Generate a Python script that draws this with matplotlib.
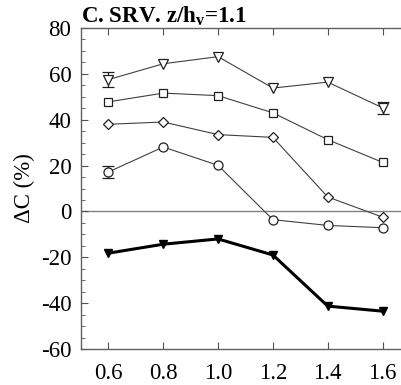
import matplotlib
matplotlib.use("Agg")
import matplotlib.pyplot as plt
from matplotlib.ticker import MultipleLocator

plt.rcParams['font.family'] = ['Liberation Serif', 'DejaVu Serif']
plt.rcParams['axes.unicode_minus'] = False
plt.rcParams['mathtext.fontset'] = 'custom'
plt.rcParams['mathtext.rm'] = 'Liberation Serif'
plt.rcParams['mathtext.bf'] = 'Liberation Serif:bold'

x = [0.6, 0.8, 1.0, 1.2, 1.4, 1.6]
tri_open = [57.5, 64.4, 67.5, 53.8, 56.4, 45.2]
tri_open_err = [3.2, 0, 0, 0, 0, 2.6]
squares = [47.8, 51.6, 50.5, 43.0, 31.3, 21.4]
diamonds = [38.0, 39.0, 33.5, 32.3, 6.3, -2.5]
circles = [17.2, 28.1, 20.1, -3.6, -6.1, -7.1]
circles_err = [2.5, 0, 0, 0, 0, 0]
tri_filled = [-18.2, -14.3, -12.0, -19.0, -41.3, -43.5]
yticks = [-60, -40, -20, 0, 20, 40, 60, 80]
xticks = [0.6, 0.8, 1.0, 1.2, 1.4, 1.6]
xticklabels = ['0.6', '0.8', '1.0', '1.2', '1.4', '1.6']

fig = plt.figure(figsize=(4.01, 3.85), dpi=100)
ax = fig.add_axes([81/401, 1-349/385, (410-81)/401, (349-28)/385])

ax.axhline(0, color='#808080', lw=1.0, zorder=1)

lc = '#404040'
def series(y, marker, ms, err=None):
    ax.plot(x, y, color=lc, lw=0.8, marker=marker, ms=ms, mfc='white', mec='#202020', mew=0.9, zorder=3)
    if err is not None:
        ex = [xi for xi, e in zip(x, err) if e > 0]
        ey = [yi for yi, e in zip(y, err) if e > 0]
        ee = [e for e in err if e > 0]
        ax.errorbar(ex, ey, yerr=ee, fmt='none', ecolor='#202020', elinewidth=0.9, capsize=4, capthick=0.9, zorder=2)

series(tri_open, 'v', 7, tri_open_err)
series(squares, 's', 6)
series(diamonds, 'D', 5.5)
series(circles, 'o', 6.5, circles_err)
ax.plot(x, tri_filled, color='black', lw=2.2, marker='v', ms=6, mfc='black', mec='black', zorder=3)

ax.set_xlim(0.5, 1.7)
ax.set_ylim(-60, 80)
ax.set_yticks(yticks)
ax.yaxis.set_minor_locator(MultipleLocator(5))
ax.set_xticks(xticks)
ax.set_xticklabels(xticklabels)
ax.tick_params(direction='in', which='both', top=True, right=True, labelsize=16.5, colors='#505050', labelcolor='black')
ax.tick_params(which='major', length=5)
ax.tick_params(which='minor', length=3)
ax.tick_params(axis='x', pad=10)
ax.tick_params(axis='y', pad=7)
for s in ax.spines.values():
    s.set_color('#606060')
    s.set_linewidth(1.0)

ax.set_ylabel('ΔC (%)', fontsize=16.5, labelpad=4)
ax.set_title('C. SRV. z/h$_\\mathbf{v}$=1.1', fontsize=16.5, fontweight='bold', loc='left', pad=3)

fig.savefig('out.png', dpi=100)
